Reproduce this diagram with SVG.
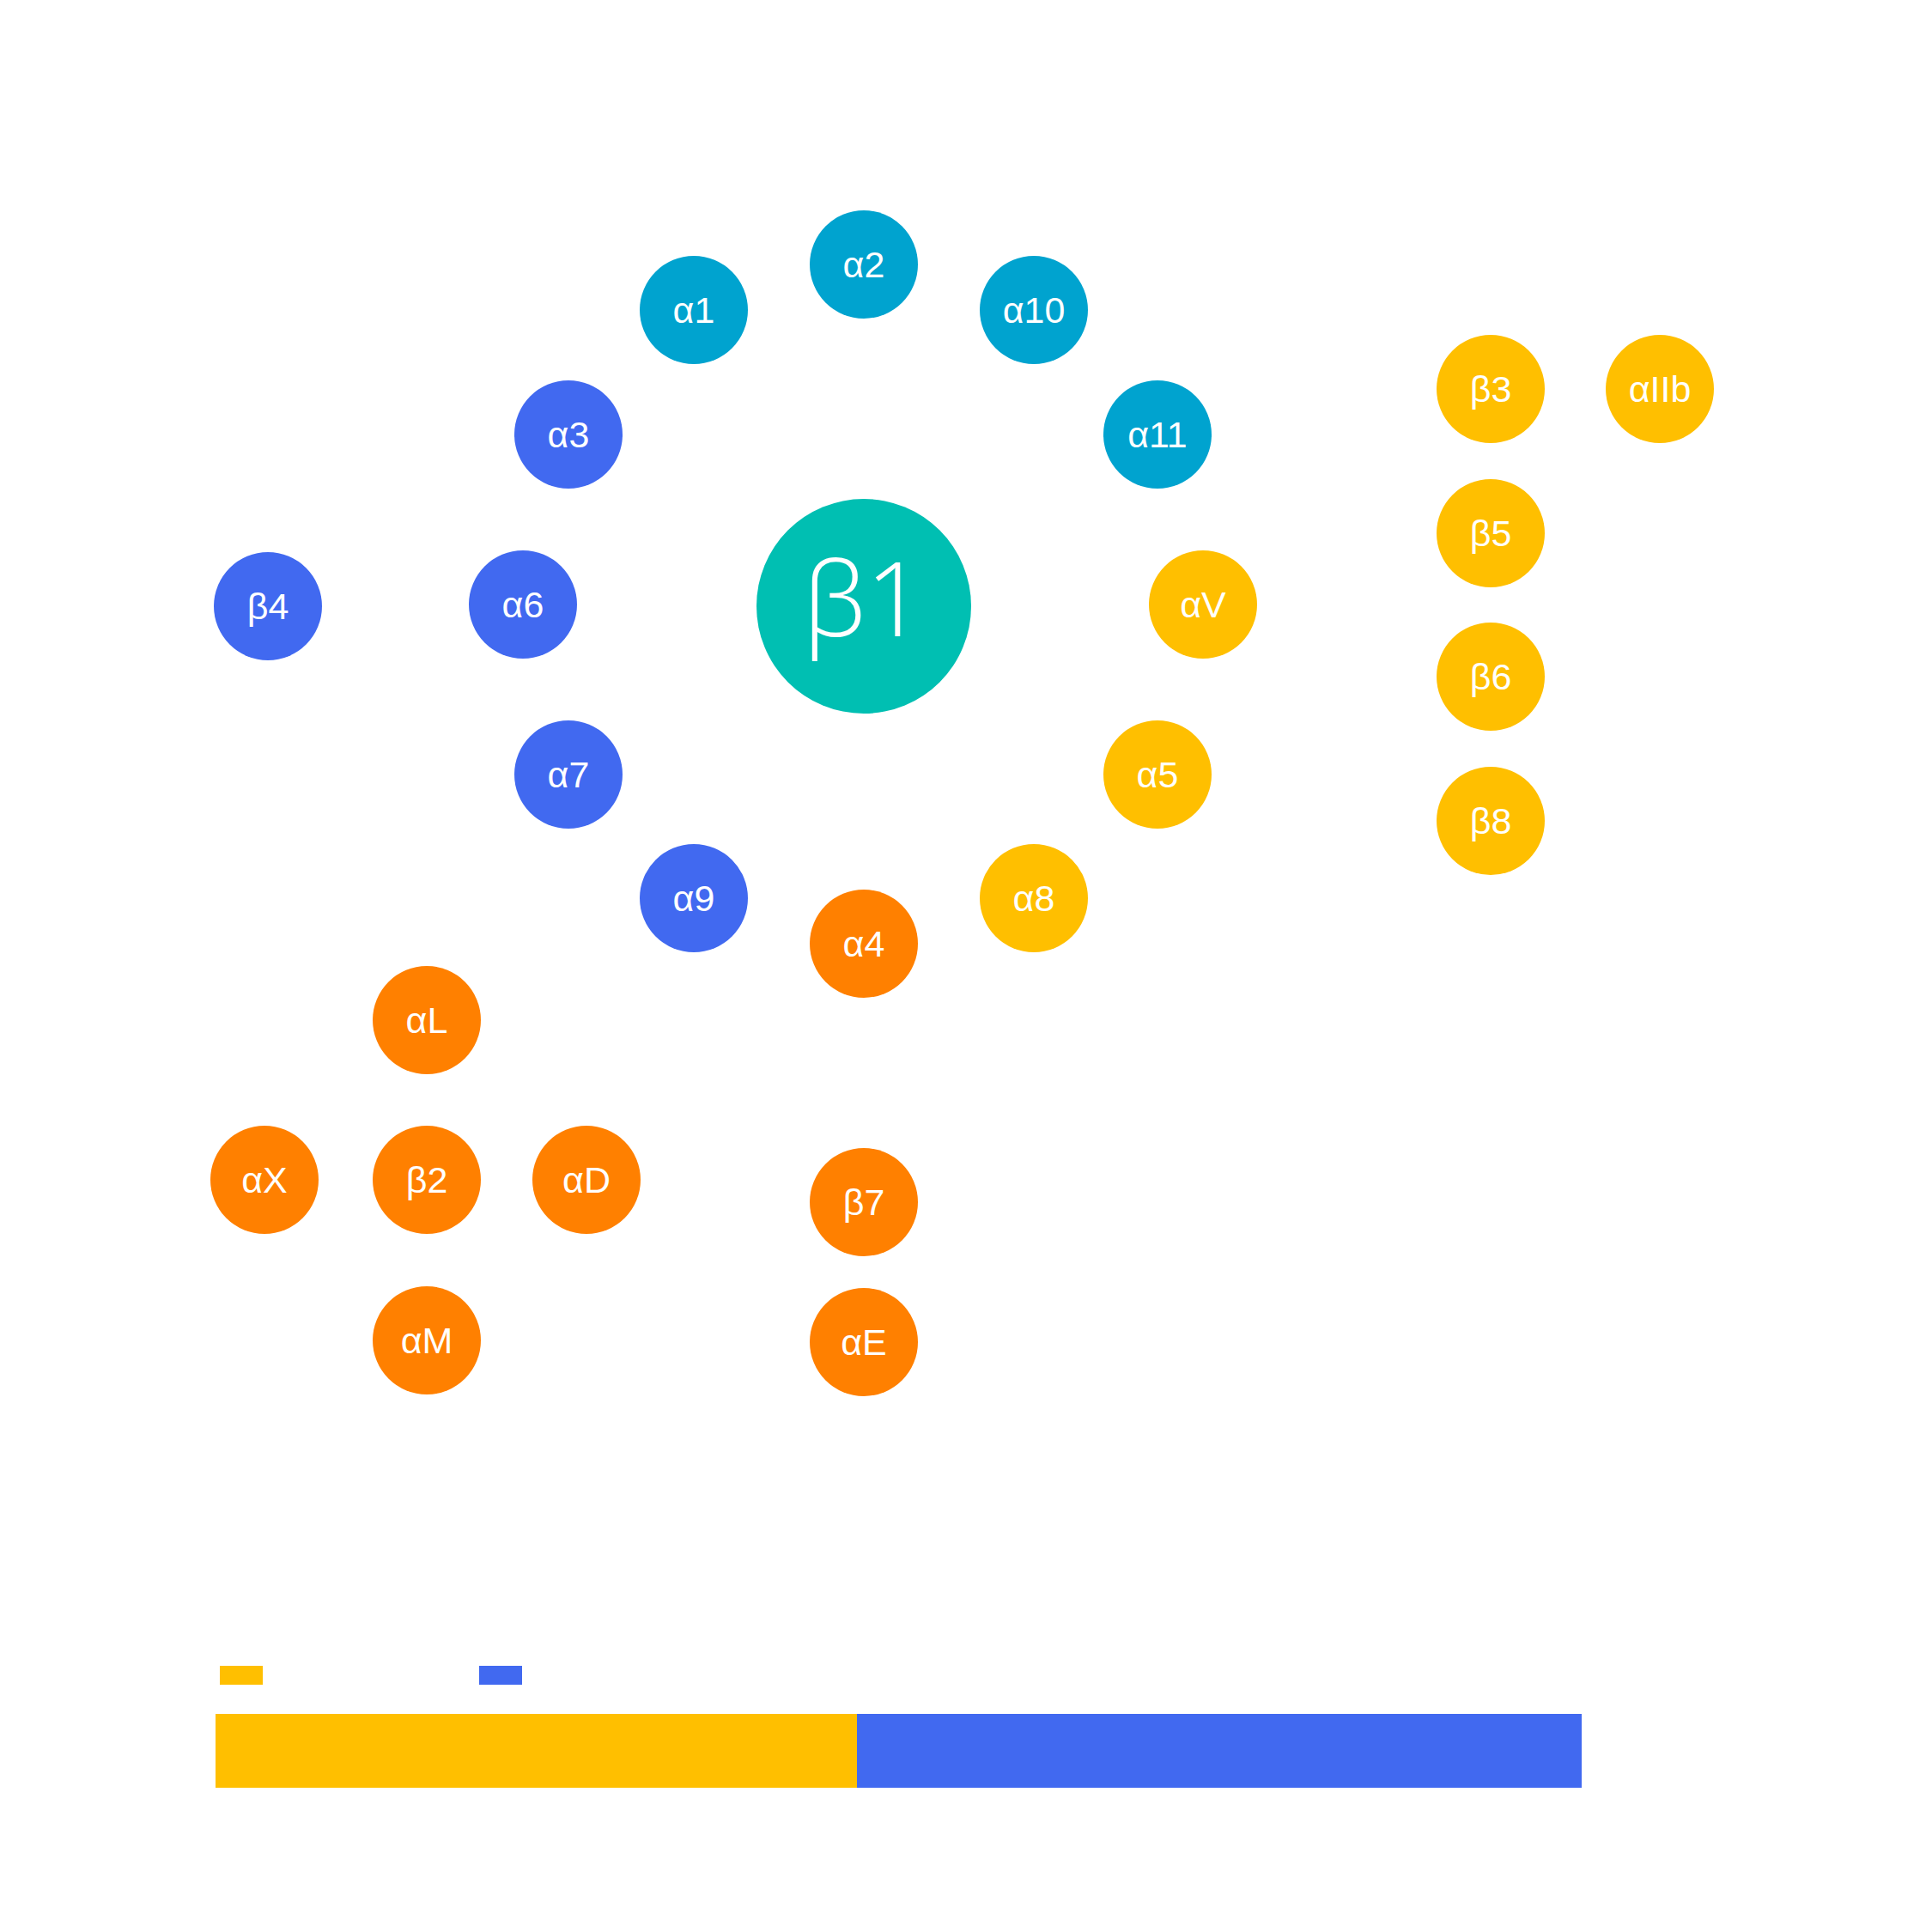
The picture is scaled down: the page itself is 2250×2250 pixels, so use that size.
<svg xmlns="http://www.w3.org/2000/svg" width="2250" height="2250" viewBox="0 0 2250 2250">
<style>
text{font-family:"Liberation Sans",Arial,sans-serif;fill:#fff;text-anchor:middle;dominant-baseline:central;font-size:43px}
.big{font-family:"Open Sans","Liberation Sans",sans-serif;font-weight:300;font-size:120px}
.t{fill:#00bfb2}.c{fill:#00a3cf}.b{fill:#4169f0}.o{fill:#ff8000}.y{fill:#ffbf00}
</style>
<rect width="2250" height="2250" fill="#fff"/>
<g id="connectors"/>
<g id="b1"><circle class="t" cx="1006" cy="706" r="125"/><text class="big" x="1006" y="694">β1</text></g>
<g id="a2"><circle class="c" cx="1006" cy="308" r="63"/><text x="1006" y="308">α2</text></g>
<g id="a1"><circle class="c" cx="808" cy="361" r="63"/><text x="808" y="361">α1</text></g>
<g id="a10"><circle class="c" cx="1204" cy="361" r="63"/><text x="1204" y="361">α10</text></g>
<g id="a11"><circle class="c" cx="1348" cy="506" r="63"/><text x="1348" y="506">α11</text></g>
<g id="a3"><circle class="b" cx="662" cy="506" r="63"/><text x="662" y="506">α3</text></g>
<g id="b4"><circle class="b" cx="312" cy="706" r="63"/><text x="312" y="706">β4</text></g>
<g id="a6"><circle class="b" cx="609" cy="704" r="63"/><text x="609" y="704">α6</text></g>
<g id="a7"><circle class="b" cx="662" cy="902" r="63"/><text x="662" y="902">α7</text></g>
<g id="a9"><circle class="b" cx="808" cy="1046" r="63"/><text x="808" y="1046">α9</text></g>
<g id="aV"><circle class="y" cx="1401" cy="704" r="63"/><text x="1401" y="704">αV</text></g>
<g id="a5"><circle class="y" cx="1348" cy="902" r="63"/><text x="1348" y="902">α5</text></g>
<g id="a8"><circle class="y" cx="1204" cy="1046" r="63"/><text x="1204" y="1046">α8</text></g>
<g id="b3"><circle class="y" cx="1736" cy="453" r="63"/><text x="1736" y="453">β3</text></g>
<g id="aIIb"><circle class="y" cx="1933" cy="453" r="63"/><text x="1933" y="453">αIIb</text></g>
<g id="b5"><circle class="y" cx="1736" cy="621" r="63"/><text x="1736" y="621">β5</text></g>
<g id="b6"><circle class="y" cx="1736" cy="788" r="63"/><text x="1736" y="788">β6</text></g>
<g id="b8"><circle class="y" cx="1736" cy="956" r="63"/><text x="1736" y="956">β8</text></g>
<g id="a4"><circle class="o" cx="1006" cy="1099" r="63"/><text x="1006" y="1099">α4</text></g>
<g id="aL"><circle class="o" cx="497" cy="1188" r="63"/><text x="497" y="1188">αL</text></g>
<g id="aX"><circle class="o" cx="308" cy="1374" r="63"/><text x="308" y="1374">αX</text></g>
<g id="b2"><circle class="o" cx="497" cy="1374" r="63"/><text x="497" y="1374">β2</text></g>
<g id="aD"><circle class="o" cx="683" cy="1374" r="63"/><text x="683" y="1374">αD</text></g>
<g id="b7"><circle class="o" cx="1006" cy="1400" r="63"/><text x="1006" y="1400">β7</text></g>
<g id="aM"><circle class="o" cx="497" cy="1561" r="63"/><text x="497" y="1561">αM</text></g>
<g id="aE"><circle class="o" cx="1006" cy="1563" r="63"/><text x="1006" y="1563">αE</text></g>
<g id="legend">
<rect class="y" x="256" y="1940" width="50" height="22"/>
<rect class="b" x="558" y="1940" width="50" height="22"/>
<rect class="y" x="251" y="1996" width="747" height="86"/>
<rect class="b" x="998" y="1996" width="844" height="86"/>
</g>
</svg>
